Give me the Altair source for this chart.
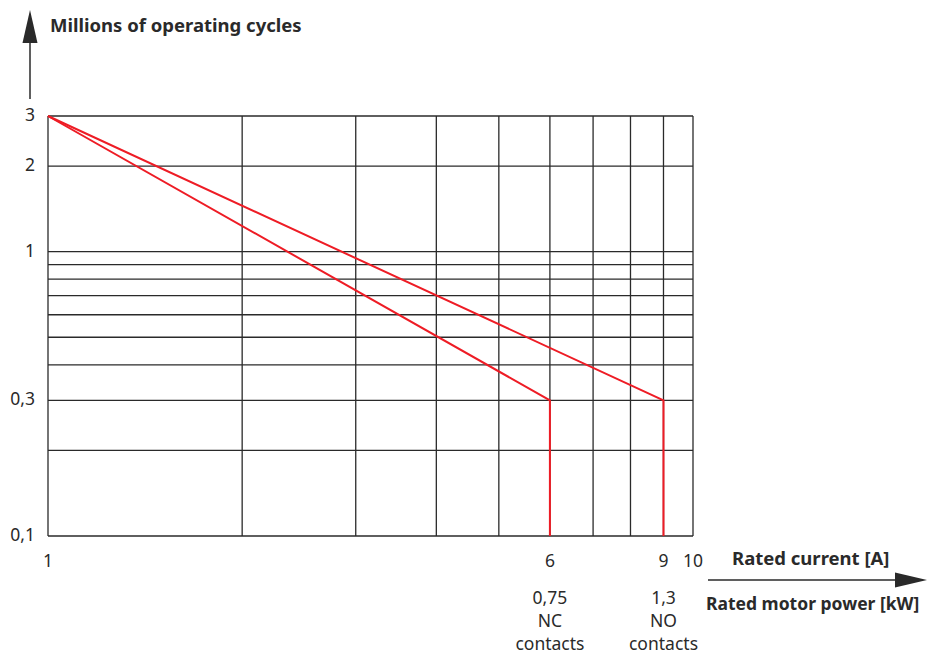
import altair as alt
import pandas as pd

# ---- data ----
x_grid = [1, 2, 3, 4, 5, 6, 7, 8, 9, 10]
y_grid = [0.1, 0.2, 0.3, 0.4, 0.5, 0.6, 0.7, 0.8, 0.9, 1, 2, 3]

y_tick_values = [3, 2, 1, 0.3, 0.1]
y_tick_labels = ["3", "2", "1", "0,3", "0,1"]

x_tick_values = [1, 6, 9, 10]
x_tick_labels = ["1", "6", "9", "10"]

power_positions = [6, 9]
power_labels = ["0,75\nNC\ncontacts", "1,3\nNO\ncontacts"]

nc_current = [1, 6, 6]
nc_cycles = [3, 0.3, 0.1]
no_current = [1, 9, 9]
no_cycles = [3, 0.3, 0.1]

X_MIN, X_MAX = 1, 10
Y_MIN, Y_MAX = 0.1, 3

# ---- tables ----
lines_df = pd.DataFrame({
    "x": nc_current + no_current,
    "y": nc_cycles + no_cycles,
    "series": ["NC"] * 3 + ["NO"] * 3,
    "order": list(range(3)) * 2,
})
xg_df = pd.DataFrame({"x": x_grid})
yg_df = pd.DataFrame({"y": y_grid})
yt_df = pd.DataFrame({"y": y_tick_values, "x": [X_MIN] * len(y_tick_values), "label": y_tick_labels})
xt_df = pd.DataFrame({"x": x_tick_values, "y": [Y_MIN] * len(x_tick_values), "label": x_tick_labels})
pw_df = pd.DataFrame({"x": power_positions, "y": [Y_MIN] * len(power_positions), "label": power_labels})
one = pd.DataFrame({"a": [0]})

FONT = "Noto Sans"
INK = "#2a2a2a"
TXT = "#2a2a2a"
RED = "#ee1c25"

xs = alt.Scale(type="log", domain=[X_MIN, X_MAX], nice=False)
ys = alt.Scale(type="log", domain=[Y_MIN, Y_MAX], nice=False)
X = alt.X("x:Q", scale=xs, axis=None)
Y = alt.Y("y:Q", scale=ys, axis=None)

vgrid = alt.Chart(xg_df).mark_rule(color=INK, strokeWidth=1.3).encode(x=X)
hgrid = alt.Chart(yg_df).mark_rule(color=INK, strokeWidth=1.3).encode(y=Y)

curves = alt.Chart(lines_df).mark_line(color=RED, strokeWidth=2).encode(
    x=X, y=Y, detail="series:N", order="order:Q",
)

ylabels = alt.Chart(yt_df).mark_text(
    align="right", baseline="middle", dx=-13, font=FONT, fontSize=17.5, color=TXT
).encode(x=X, y=Y, text="label:N")

xlabels = alt.Chart(xt_df).mark_text(
    align="center", baseline="middle", dy=26, font=FONT, fontSize=17.5, color=TXT
).encode(x=X, y=Y, text="label:N")

plabels = alt.Chart(pw_df).mark_text(
    align="center", baseline="alphabetic", dy=68, lineBreak="\n", lineHeight=23,
    font=FONT, fontSize=17.5, color=TXT
).encode(x=X, y=Y, text="label:N")

# axis arrows (decorations)
y_arrow_line = alt.Chart(one).mark_rule(color=INK, strokeWidth=1.5).encode(
    x=alt.value(-18), y=alt.value(-75), y2=alt.value(-17)
)
y_arrow_head = alt.Chart(one).mark_point(
    shape="M0,-1L0.455,1L-0.455,1Z", size=1089, filled=True, opacity=1, color=INK
).encode(x=alt.value(-18), y=alt.value(-89.5))

x_arrow_line = alt.Chart(one).mark_rule(color=INK, strokeWidth=1.5).encode(
    x=alt.value(660), x2=alt.value(850), y=alt.value(464)
)
x_arrow_head = alt.Chart(one).mark_point(
    shape="M1,0L-1,0.47L-1,-0.47Z", size=1024, filled=True, opacity=1, color=INK
).encode(x=alt.value(863), y=alt.value(464))

t_y = alt.Chart(one).mark_text(
    align="left", baseline="middle", font=FONT, fontSize=18.5, fontWeight="bold", color=TXT
).encode(x=alt.value(2), y=alt.value(-90), text=alt.value("Millions of operating cycles"))

t_x1 = alt.Chart(one).mark_text(
    align="left", baseline="middle", font=FONT, fontSize=18.5, fontWeight="bold", color=TXT
).encode(x=alt.value(684), y=alt.value(443), text=alt.value("Rated current [A]"))

t_x2 = alt.Chart(one).mark_text(
    align="left", baseline="middle", font=FONT, fontSize=17.5, fontWeight="bold", color=TXT
).encode(x=alt.value(658), y=alt.value(489), text=alt.value("Rated motor power [kW]"))

chart = alt.layer(
    vgrid, hgrid, curves, ylabels, xlabels, plabels,
    y_arrow_line, y_arrow_head, x_arrow_line, x_arrow_head,
    t_y, t_x1, t_x2,
).properties(
    width=645,
    height=420,
    autosize=alt.AutoSizeParams(type="none"),
    padding={"left": 40, "top": 108, "right": 235, "bottom": 120},
    background="white",
).configure_view(stroke=None)

chart.save("out.html", embed_options={"renderer": "svg", "actions": False})
